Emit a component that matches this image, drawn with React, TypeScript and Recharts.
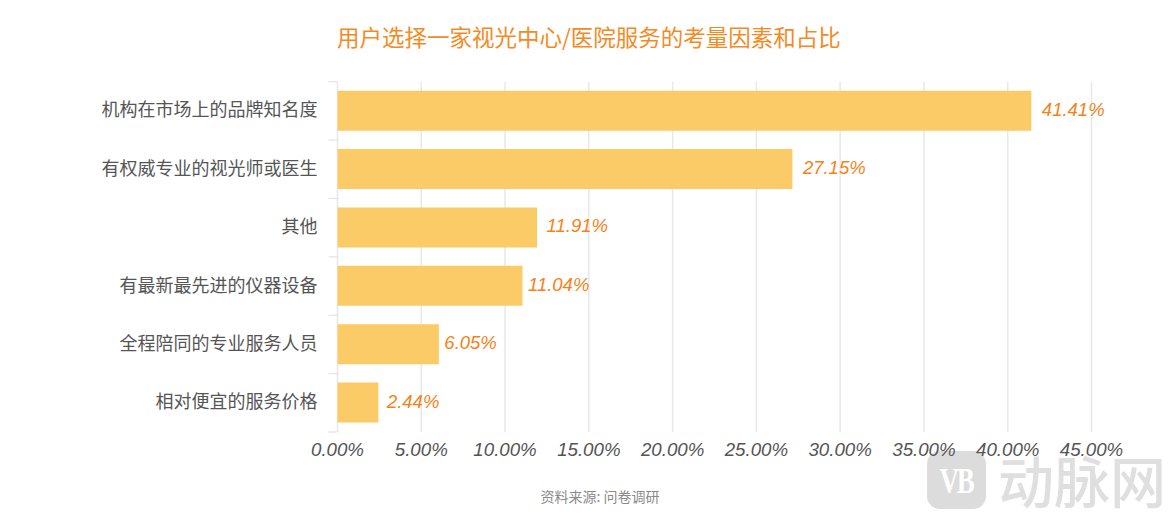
import React from "react";
import { BarChart, Bar, XAxis, YAxis, CartesianGrid, LabelList } from "recharts";

const categories = [
  "机构在市场上的品牌知名度",
  "有权威专业的视光师或医生",
  "其他",
  "有最新最先进的仪器设备",
  "全程陪同的专业服务人员",
  "相对便宜的服务价格",
];
const shares = [41.41, 27.15, 11.91, 11.04, 6.05, 2.44];
const xTicks = [0, 5, 10, 15, 20, 25, 30, 35, 40, 45];

const data = categories.map((name, i) => ({ name, share: shares[i] }));

const CJK = '"Noto Sans CJK SC", sans-serif';
const LATIN = '"Liberation Sans", Arial, sans-serif';
const PLOT_TOP = 81.7;
const PLOT_HEIGHT = 350.3;
const BAND = PLOT_HEIGHT / categories.length;

// the source labels are not evenly spaced from their bars
const labelGap = [10.5, 10.5, 9.5, 5.5, 5.5, 8.5];

// category tick: text in the band centre, tick marks on the band edges
const CategoryTick = ({ x, y, payload, index }: any) => (
  <g>
    <line x1={x + 11} x2={x + 20} y1={y - BAND / 2} y2={y - BAND / 2} stroke="#e3e3e3" strokeWidth={1.2} />
    {index === categories.length - 1 && (
      <line x1={x + 11} x2={x + 20} y1={y + BAND / 2} y2={y + BAND / 2} stroke="#e3e3e3" strokeWidth={1.2} />
    )}
    <text x={x} y={y - 2.5} textAnchor="end" dominantBaseline="central" fontSize={18} fill="#555" fontFamily={CJK}>
      {payload.value}
    </text>
  </g>
);

const ValueLabel = ({ x, y, width, height, value, index }: any) => (
  <text
    x={x + width + labelGap[index]}
    y={y + height / 2 - 1.5}
    dominantBaseline="central"
    fontSize={18.5}
    fontStyle="italic"
    fill="#f58218"
    fontFamily={LATIN}
  >
    {`${value.toFixed(2)}%`}
  </text>
);

export default function App() {
  return (
    <div style={{ position: "absolute", left: 0, top: 0, width: 1171, height: 519, background: "#fff", overflow: "hidden" }}>
      {/* watermark, sits behind the chart */}
      <div style={{ position: "absolute", left: 927, top: 451, width: 59, height: 58, borderRadius: 13, background: "#dcdcdc", color: "#fff", fontFamily: '"Liberation Serif", serif', fontWeight: 700, fontSize: 36, lineHeight: "60px", textAlign: "center" }}>
        <span style={{ display: "inline-block", transform: "scaleX(0.75)", letterSpacing: -3 }}>VB</span>
      </div>
      <div style={{ position: "absolute", left: 998, top: 448, fontSize: 56, lineHeight: "62px", color: "#dfdfdf", fontFamily: CJK, fontWeight: 500, whiteSpace: "nowrap" }}>
        动脉网
      </div>

      <div style={{ position: "absolute", left: 337, top: 20, fontSize: 22.5, lineHeight: "32px", color: "#f58a1f", fontFamily: CJK, whiteSpace: "nowrap" }}>
        用户选择一家视光中心/医院服务的考量因素和占比
      </div>

      <BarChart
        width={1171}
        height={519}
        data={data}
        layout="vertical"
        margin={{ top: PLOT_TOP, right: 79.5, bottom: 47, left: 0 }}
      >
        <CartesianGrid horizontal={false} stroke="#e8e8e8" strokeWidth={1.5} />
        <XAxis
          type="number"
          domain={[0, 45]}
          ticks={xTicks}
          axisLine={false}
          tickLine={false}
          tickMargin={5}
          height={40}
          tickFormatter={(v: number) => `${v.toFixed(2)}%`}
          tick={{ fontSize: 18.7, fontStyle: "italic", fill: "#555", fontFamily: LATIN }}
          interval={0}
        />
        <YAxis
          type="category"
          dataKey="name"
          width={337.5}
          axisLine={false}
          tickLine={false}
          tickMargin={14}
          interval={0}
          tick={<CategoryTick />}
        />
        <Bar dataKey="share" fill="#fbcb68" barSize={40} isAnimationActive={false}>
          <LabelList dataKey="share" content={<ValueLabel />} />
        </Bar>
      </BarChart>

      <div style={{ position: "absolute", left: 0, width: 1200, top: 487, textAlign: "center", fontSize: 14, lineHeight: "18px", color: "#8a8a8a", fontFamily: CJK }}>
        资料来源: 问卷调研
      </div>
    </div>
  );
}
